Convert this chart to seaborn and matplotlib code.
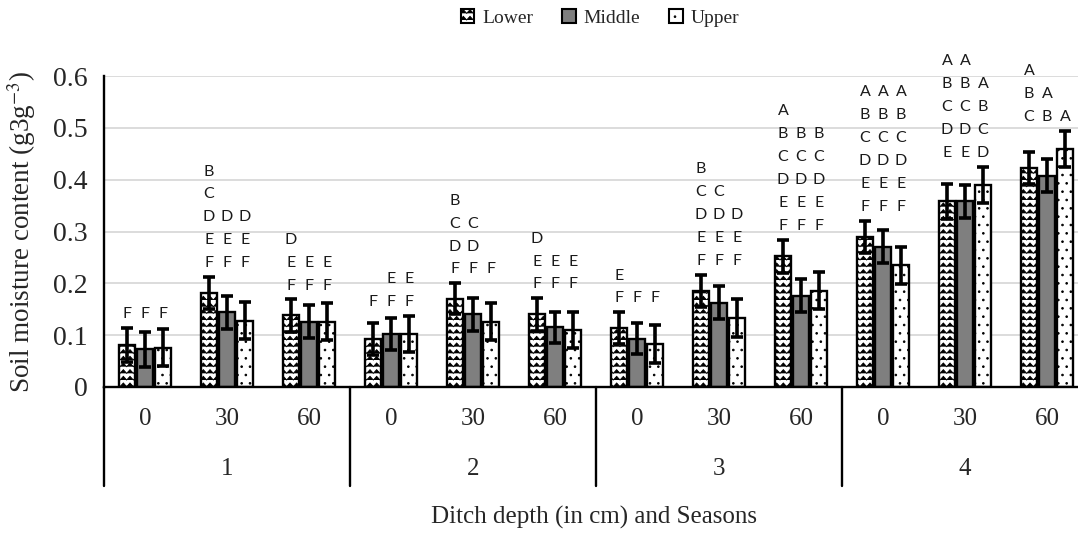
import numpy as np
import pandas as pd
import matplotlib
matplotlib.use("Agg")
import matplotlib.pyplot as plt
import matplotlib.hatch as mhatch
from matplotlib.path import Path
from matplotlib.patches import Patch
from matplotlib import transforms
import seaborn as sns

# ---------------- data ----------------
seasons = ["1", "2", "3", "4"]
depths = ["0", "30", "60"]
positions = ["Lower", "Middle", "Upper"]

lower = [0.081, 0.181, 0.138, 0.092, 0.170, 0.140, 0.113, 0.186, 0.252, 0.290, 0.358, 0.422]
middle = [0.073, 0.144, 0.126, 0.102, 0.140, 0.115, 0.093, 0.163, 0.176, 0.271, 0.358, 0.408]
upper = [0.076, 0.128, 0.126, 0.102, 0.126, 0.110, 0.083, 0.133, 0.186, 0.235, 0.390, 0.459]

lower_err = [0.033, 0.031, 0.031, 0.031, 0.030, 0.031, 0.031, 0.031, 0.032, 0.031, 0.034, 0.031]
middle_err = [0.034, 0.032, 0.032, 0.031, 0.031, 0.030, 0.030, 0.031, 0.032, 0.032, 0.031, 0.032]
upper_err = [0.036, 0.036, 0.036, 0.035, 0.036, 0.035, 0.037, 0.036, 0.035, 0.036, 0.035, 0.035]

lower_letters = ["F", "BCDEF", "DEF", "F", "BCDF", "DEF", "EF", "BCDEF", "ABCDEF", "ABCDEF", "ABCDE", "ABC"]
middle_letters = ["F", "DEF", "EF", "EF", "CDF", "EF", "F", "CDEF", "BCDEF", "ABCDEF", "ABCDE", "AB"]
upper_letters = ["F", "DEF", "EF", "EF", "F", "EF", "F", "DEF", "BCDEF", "ABCDEF", "ABCD", "A"]

y_ticks = [0, 0.1, 0.2, 0.3, 0.4, 0.5, 0.6]
x_title = "Ditch depth (in cm) and Seasons"
y_title = "Soil moisture content (g3g$^{-3}$)"

# ---------------- custom zigzag hatch (uses the '*' character) ----------------
class ZigZagHatch(mhatch.HatchPatternBase):
    def __init__(self, hatch, density):
        self.num_lines = int(hatch.count("*") * density * 1.25)
        self.teeth = self.num_lines
        self.num_vertices = self.num_lines * (2 * self.teeth + 1) if self.num_lines else 0

    def set_vertices_and_codes(self, vertices, codes):
        n, t = self.num_lines, self.teeth
        m = 2 * t + 1
        xs = np.linspace(0, 1, m)
        amp = 0.55 / n
        idx = 0
        for i in range(n):
            y0 = i / n
            vertices[idx:idx + m, 0] = xs
            vertices[idx:idx + m, 1] = y0 + amp * (np.arange(m) % 2)
            codes[idx] = Path.MOVETO
            codes[idx + 1:idx + m] = Path.LINETO
            idx += m

mhatch._hatch_types[:] = [h for h in mhatch._hatch_types if h is not mhatch.Stars] + [ZigZagHatch]

# ---------------- style ----------------
sns.set_style("white")
plt.rcParams["font.family"] = ["Liberation Serif", "DejaVu Serif"]
plt.rcParams["mathtext.fontset"] = "stix"
plt.rcParams["hatch.linewidth"] = 0.65
plt.rcParams["hatch.color"] = "black"

cats = [f"{s}-{d}" for s in seasons for d in depths]
rows = []
for pos, vals in zip(positions, [lower, middle, upper]):
    for c, v in zip(cats, vals):
        rows.append({"cat": c, "position": pos, "value": v})
df = pd.DataFrame(rows)

W, H = 1078, 534
fig = plt.figure(figsize=(W / 100, H / 100), dpi=100)
ax = fig.add_axes([104 / W, 1 - 387 / H, 984 / W, 311 / H])

sns.barplot(data=df, x="cat", y="value", hue="position", order=cats, hue_order=positions,
            palette=["white", "#7f7f7f", "white"], edgecolor="black", linewidth=1.7,
            width=0.66, gap=0.1, errorbar=None, legend=False, ax=ax)

hatches = ["**", "", ".."]
errs = [lower_err, middle_err, upper_err]
vals_all = [lower, middle, upper]
letters_all = [lower_letters, middle_letters, upper_letters]
centers = []
for cont, h, e, v in zip(ax.containers, hatches, errs, vals_all):
    xs = []
    for p in cont:
        p.set_hatch(h)
        xs.append(p.get_x() + p.get_width() / 2)
    centers.append(xs)
    ax.errorbar(xs, v, yerr=e, fmt="none", ecolor="black", elinewidth=2.6,
                capsize=4.2, capthick=2.6, zorder=5)

# significance letters
for j in range(len(cats)):
    top = max(vals_all[i][j] + errs[i][j] for i in range(3))
    for i in range(3):
        for k, ch in enumerate(reversed(letters_all[i][j])):
            ax.annotate(ch, (centers[i][j], top), xytext=(0, 10 + 16.5 * k),
                        textcoords="offset points", ha="center", va="center",
                        fontsize=11.5, family="Lato", color="#1a1a1a", zorder=6)

ax.set_xlim(-0.5, len(cats) - 0.5)
ax.set_ylim(0, 0.6)
ax.set_yticks(y_ticks)
ax.set_yticklabels(["0" if t == 0 else f"{t:.1f}" for t in y_ticks], fontsize=20)
ax.set_xticks(range(len(cats)))
ax.set_xticklabels([c.split("-")[1] for c in cats], fontsize=18)
ax.tick_params(axis="y", length=0, pad=12)
ax.tick_params(axis="x", length=0, pad=15)
ax.yaxis.grid(True, color="#d9d9d9", lw=1.3)
ax.xaxis.grid(False)
ax.set_axisbelow(True)
ax.set_xlabel("")
ax.set_ylabel("")
for s in ["top", "right"]:
    ax.spines[s].set_visible(False)
for s in ["left", "bottom"]:
    ax.spines[s].set_color("black")
    ax.spines[s].set_linewidth(1.7)

# two-level category axis
trans = transforms.blended_transform_factory(ax.transData, ax.transAxes)
n_d = len(depths)
for g in range(len(seasons) + 1):
    xg = g * n_d - 0.5
    ax.plot([xg, xg], [0, -0.318], color="black", lw=1.7, transform=trans, clip_on=False)
for g, s in enumerate(seasons):
    ax.text(g * n_d + (n_d - 1) / 2, -0.264, s, transform=trans, ha="center", va="center",
            fontsize=18)

fig.text(594 / W, 1 - 517 / H, x_title, ha="center", va="center", fontsize=18)
fig.text(22 / W, 1 - 232 / H, y_title, ha="center", va="center", rotation=90, fontsize=19.5)

handles = [Patch(facecolor=c, edgecolor="black", hatch=h, linewidth=1.5, label=l)
           for c, h, l in zip(["white", "#7f7f7f", "white"], hatches, positions)]
fig.legend(handles=handles, loc="center", bbox_to_anchor=(600 / W, 1 - 18 / H), ncol=3,
           frameon=False, fontsize=14, handlelength=0.7, handleheight=0.7,
           handletextpad=0.4, columnspacing=1.5)

fig.savefig("out.png", dpi=100)
